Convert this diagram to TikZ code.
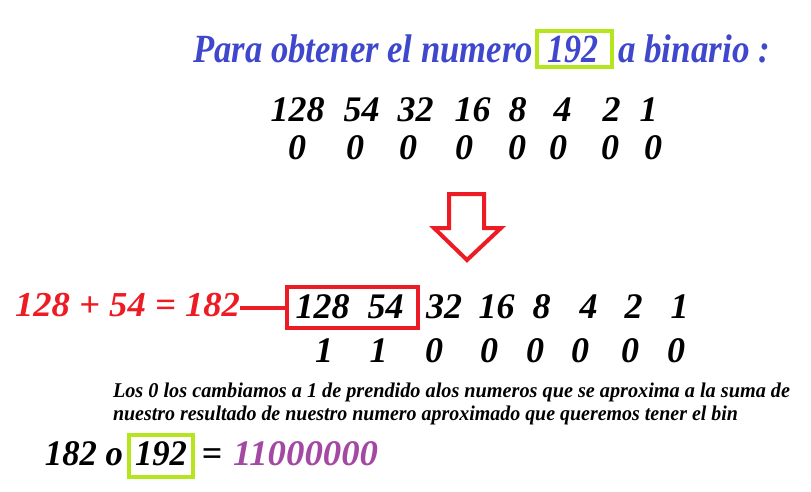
\documentclass[tikz,border=0pt]{standalone}
\usepackage{fontspec}
\setmainfont{Liberation Serif}
\usepackage{graphicx}
\definecolor{titleblue}{RGB}{63,72,204}
\definecolor{pred}{RGB}{237,28,36}
\definecolor{plime}{RGB}{181,230,29}
\definecolor{ppurple}{RGB}{163,73,164}
\newcommand\fw[2]{\resizebox{#1pt}{\height}{#2}}
\tikzset{
  txt/.style={inner sep=0pt, outer sep=0pt, font=\bfseries\itshape},
  big/.style={txt, font=\fontsize{40}{40}\selectfont\bfseries\itshape, text=titleblue},
  num/.style={txt, anchor=base, font=\fontsize{36}{36}\selectfont\bfseries\itshape},
  small/.style={txt, anchor=base west, font=\fontsize{21}{21}\selectfont\bfseries\itshape},
  limebox/.style={draw=plime, line width=4pt, inner sep=0pt},
  redbox/.style={draw=pred, line width=4pt, inner sep=0pt},
  redline/.style={draw=pred, line width=4pt},
}
\begin{document}
\begin{tikzpicture}[x=1pt,y=-1pt]
\useasboundingbox[fill=white] (0,0) rectangle (811,492);
% title
\node[big, anchor=base west] (t1) at (193,63) {\fw{340}{Para obtener el numero}};
\node[limebox, minimum width=75, minimum height=36] (tbox) at (574.5,49) {};
\node[big, anchor=base] (t2) at (572.5,63) {\fw{51}{192}};
\node[big, anchor=base west] (t3) at (618,63) {\fw{152}{a binario :}};
% row 1
\foreach \v/\x [count=\i] in {128/297.5,54/361.5,32/415.5,16/472.5,8/517.5,4/562.5,2/611.5,1/648.5}
  \node[num] (a\i) at (\x,122) {\v};
\foreach \x [count=\i] in {297,355,408,464,517,558,610,653}
  \node[num] (b\i) at (\x,160) {0};
% arrow
\draw[pred, line width=4pt, line join=miter]
  (449,194) -- (484,194) -- (484,228) -- (501,228) -- (467,260) -- (434,228) -- (449,228) -- cycle;
% row 2
\node[txt, anchor=base west, text=pred, font=\fontsize{35}{35}\selectfont\bfseries\itshape] (sum) at (15,316) {\fw{225}{128 + 54 = 182}};
\node[redbox, minimum width=131, minimum height=41] (rbox) at (352.5,307.5) {};
\draw[redline] (sum.east |- rbox.west) -- (rbox.west);
\foreach \v/\x [count=\i] in {128/322.5,54/385.5,32/444,16/496.5,8/541.5,4/588.5,2/633.5,1/679.5}
  \node[num] (c\i) at (\x,318) {\v};
\foreach \v/\x [count=\i] in {1/324,1/378.5,0/434,0/489,0/535,0/580,0/630,0/676}
  \node[num] (d\i) at (\x,362) {\v};
% explanation
\node[small] (s1) at (113,397) {\fw{677}{Los 0 los cambiamos a 1 de prendido alos numeros que se aproxima a la suma de}};
\node[small] (s2) at (113,420) {\fw{625}{nuestro resultado de nuestro numero aproximado que queremos tener el bin}};
% bottom
\node[limebox, minimum width=64, minimum height=42] (bbox) at (161,456) {};
\node[num, anchor=base west] (e1) at (45,465) {\fw{78}{182 o}};
\node[num] (e2) at (161,465) {\fw{52}{192}};
\node[num] (e3) at (212,465) {=};
\node[num, anchor=base west, text=ppurple] (e4) at (233,465) {\fw{145}{11000000}};
\end{tikzpicture}
\end{document}
